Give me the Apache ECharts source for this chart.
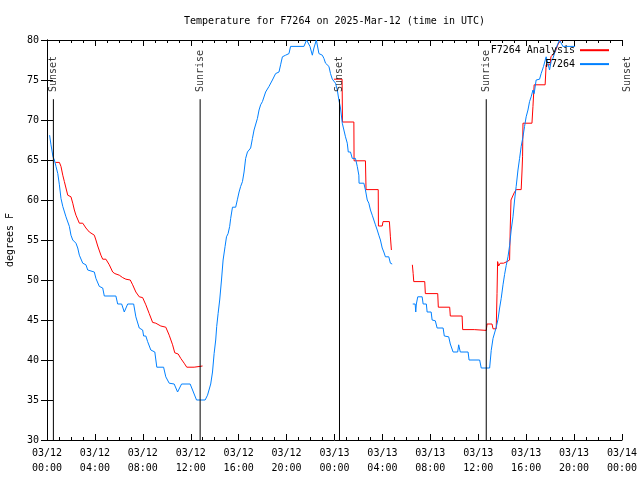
<!DOCTYPE html>
<html><head><meta charset="utf-8">
<script src="https://cdn.jsdelivr.net/npm/echarts@6/dist/echarts.min.js"></script>
<style>html,body{margin:0;padding:0;background:#fff}#c{width:640px;height:480px}</style>
</head><body><div id="c"></div>
<script>
const titleText = 'Temperature for F7264 on 2025-Mar-12 (time in UTC)';
const yAxisName = 'degrees F';
const xTickLabels = ['03/12\n00:00','03/12\n04:00','03/12\n08:00','03/12\n12:00','03/12\n16:00','03/12\n20:00',
  '03/13\n00:00','03/13\n04:00','03/13\n08:00','03/13\n12:00','03/13\n16:00','03/13\n20:00','03/14\n00:00'];
const seriesNames = ['F7264 Analysis', 'F7264'];

// F7264 Analysis (red)
const anaSeg1 = [
 ['03-12 00:42',64.7],['03-12 01:02',64.7],['03-12 01:10',64.2],['03-12 01:19',63.1],['03-12 01:27',62.3],
 ['03-12 01:35',61.5],['03-12 01:44',60.6],['03-12 02:00',60.4],['03-12 02:09',59.6],['03-12 02:17',58.75],
 ['03-12 02:25',58.1],['03-12 02:42',57.1],['03-12 02:59',57.1],['03-12 03:15',56.5],['03-12 03:32',56.0],
 ['03-12 03:40',55.75],['03-12 03:57',55.6],['03-12 04:05',55.0],['03-12 04:14',54.25],['03-12 04:30',53.1],
 ['03-12 04:39',52.6],['03-12 04:55',52.6],['03-12 05:12',51.9],['03-12 05:29',51.0],['03-12 05:40',50.8],
 ['03-12 06:02',50.6],['03-12 06:19',50.3],['03-12 06:35',50.1],['03-12 06:57',50.0],['03-12 07:09',49.4],
 ['03-12 07:25',48.5],['03-12 07:42',47.9],['03-12 07:59',47.8],['03-12 08:15',46.9],['03-12 08:32',45.8],
 ['03-12 08:49',44.7],['03-12 09:05',44.6],['03-12 09:30',44.25],['03-12 09:55',44.1],['03-12 10:12',43.1],
 ['03-12 10:29',41.9],['03-12 10:40',40.9],['03-12 10:57',40.75],['03-12 11:10',40.2],['03-12 11:27',39.6],
 ['03-12 11:40',39.1],['03-12 12:17',39.1],['03-12 12:22',39.25],['03-12 12:59',39.25]
];
const anaSeg2 = [
 ['03-12 23:57',75.1],['03-13 00:38',75.1],['03-13 00:40',69.75],['03-13 01:37',69.75],['03-13 01:38',64.9],
 ['03-13 02:35',64.9],['03-13 02:38',61.3],['03-13 03:39',61.3],['03-13 03:40',56.75],['03-13 03:59',56.75],
 ['03-13 04:03',57.3],['03-13 04:35',57.3],['03-13 04:40',55.4],['03-13 04:45',53.75]
];
const anaSeg3 = [
 ['03-13 06:30',51.9],['03-13 06:34',50.8],['03-13 06:37',49.8],['03-13 07:32',49.8],['03-13 07:35',48.3],
 ['03-13 08:37',48.3],['03-13 08:40',46.6],['03-13 09:37',46.6],['03-13 09:40',45.5],['03-13 10:39',45.5],
 ['03-13 10:42',43.8],['03-13 11:40',43.8],['03-13 11:45',43.7],['03-13 12:40',43.7],['03-13 12:44',44.5],
 ['03-13 13:09',44.5],['03-13 13:14',43.9],['03-13 13:30',43.9],['03-13 13:34',48.3],['03-13 13:37',52.3],
 ['03-13 13:42',51.75],['03-13 13:50',52.1],['03-13 14:07',52.1],['03-13 14:24',52.3],['03-13 14:37',52.5],
 ['03-13 14:40',56.25],['03-13 14:44',60.0],['03-13 14:54',60.2],['03-13 15:00',60.9],['03-13 15:10',61.3],
 ['03-13 15:35',61.3],['03-13 15:39',63.5],['03-13 15:42',65.4],['03-13 15:44',69.6],['03-13 16:29',69.6],
 ['03-13 16:34',71.7],['03-13 16:40',74.4],['03-13 17:35',74.4],['03-13 17:40',76.9],['03-13 18:00',76.9],
 ['03-13 18:04',77.9],['03-13 18:25',78.5],['03-13 18:40',79.5],['03-13 18:55',80.0]
];

// F7264 observations (blue)
const obsSeg1 = [
 ['03-12 00:13',68.1],['03-12 00:20',66.9],['03-12 00:30',65.4],['03-12 00:37',65.0],['03-12 00:45',64.2],
 ['03-12 00:54',63.3],['03-12 01:02',61.9],['03-12 01:10',60.2],['03-12 01:19',59.2],['03-12 01:35',57.9],
 ['03-12 01:52',56.7],['03-12 02:00',55.6],['03-12 02:09',55.0],['03-12 02:17',55.0],['03-12 02:25',54.6],
 ['03-12 02:34',54.0],['03-12 02:42',53.1],['03-12 02:50',52.9],['03-12 02:59',52.1],['03-12 03:15',51.9],
 ['03-12 03:24',51.25],['03-12 03:32',51.0],['03-12 03:57',51.0],['03-12 04:05',50.2],['03-12 04:22',49.2],
 ['03-12 04:39',49.0],['03-12 04:47',48.0],['03-12 05:45',48.0],['03-12 05:54',47.0],['03-12 06:14',47.0],
 ['03-12 06:27',46.0],['03-12 06:44',47.0],['03-12 07:14',47.0],['03-12 07:25',45.4],['03-12 07:42',44.0],
 ['03-12 07:59',43.75],['03-12 08:04',43.0],['03-12 08:15',43.0],['03-12 08:24',42.3],['03-12 08:40',41.25],
 ['03-12 09:00',41.0],['03-12 09:10',39.1],['03-12 09:44',39.1],['03-12 09:55',37.9],['03-12 10:12',37.1],
 ['03-12 10:37',37.0],['03-12 10:54',36.0],['03-12 11:14',37.0],['03-12 11:57',37.0],['03-12 12:09',36.25],
 ['03-12 12:29',35.0],['03-12 13:12',35.0],['03-12 13:24',35.6],['03-12 13:40',37.0],['03-12 13:49',38.5],
 ['03-12 13:57',40.8],['03-12 14:05',42.5],['03-12 14:10',44.2],['03-12 14:17',45.8],['03-12 14:25',47.5],
 ['03-12 14:34',50.0],['03-12 14:42',52.5],['03-12 14:52',54.2],['03-12 14:59',55.4],['03-12 15:07',55.8],
 ['03-12 15:15',56.7],['03-12 15:20',57.7],['03-12 15:29',59.1],['03-12 15:45',59.1],['03-12 15:54',60.1],
 ['03-12 16:02',61.0],['03-12 16:10',61.7],['03-12 16:19',62.3],['03-12 16:27',63.5],['03-12 16:35',65.2],
 ['03-12 16:44',66.0],['03-12 17:00',66.5],['03-12 17:09',67.7],['03-12 17:17',68.75],['03-12 17:34',70.2],
 ['03-12 17:42',71.25],['03-12 17:50',71.9],['03-12 17:59',72.3],['03-12 18:15',73.5],['03-12 18:32',74.2],
 ['03-12 18:49',75.0],['03-12 19:05',75.8],['03-12 19:22',76.0],['03-12 19:30',76.9],['03-12 19:39',77.9],
 ['03-12 19:55',78.1],['03-12 20:12',78.3],['03-12 20:20',79.2],['03-12 21:27',79.2],['03-12 21:40',80.0],
 ['03-12 21:57',79.2],['03-12 22:09',78.1],['03-12 22:17',79.0],['03-12 22:29',80.0],['03-12 22:42',78.3],
 ['03-12 22:59',78.1],['03-12 23:07',77.7],['03-12 23:15',77.1],['03-12 23:32',76.7],['03-12 23:40',75.8],
 ['03-12 23:49',75.1],['03-13 00:05',74.6],['03-13 00:14',73.75],['03-13 00:22',72.5],['03-13 00:30',71.5],
 ['03-13 00:39',69.6],['03-13 00:47',68.75],['03-13 00:55',67.9],['03-13 01:04',67.1],['03-13 01:09',66.0],
 ['03-13 01:20',66.0],['03-13 01:29',65.2],['03-13 01:45',65.2],['03-13 01:54',64.2],['03-13 02:02',63.1],
 ['03-13 02:03',62.1],['03-13 02:27',62.1],['03-13 02:35',61.25],['03-13 02:44',60.0],['03-13 02:52',59.6],
 ['03-13 03:00',58.75],['03-13 03:09',58.1],['03-13 03:17',57.5],['03-13 03:25',56.9],['03-13 03:34',56.25],
 ['03-13 03:42',55.6],['03-13 03:50',55.0],['03-13 03:59',54.0],['03-13 04:07',53.5],['03-13 04:15',52.9],
 ['03-13 04:32',52.9],['03-13 04:40',52.1],['03-13 04:49',52.0]
];
const obsSeg2 = [
 ['03-13 06:32',47.0],['03-13 06:44',47.0],['03-13 06:47',46.0],['03-13 06:50',47.0],['03-13 06:57',47.9],
 ['03-13 07:19',47.9],['03-13 07:24',47.0],['03-13 07:40',47.0],['03-13 07:44',46.0],['03-13 08:04',46.0],
 ['03-13 08:09',45.0],['03-13 08:25',44.9],['03-13 08:34',44.0],['03-13 09:04',44.0],['03-13 09:10',43.0],
 ['03-13 09:32',42.9],['03-13 09:40',42.0],['03-13 09:49',42.0],['03-13 09:54',41.0],['03-13 10:17',41.0],
 ['03-13 10:22',41.9],['03-13 10:30',41.0],['03-13 11:09',41.0],['03-13 11:14',40.0],['03-13 12:07',40.0],
 ['03-13 12:15',39.0],['03-13 12:57',39.0],['03-13 13:05',41.2],['03-13 13:14',42.7],['03-13 13:30',44.1],
 ['03-13 13:39',45.1],['03-13 13:47',46.5],['03-13 13:55',47.7],['03-13 14:04',49.4],['03-13 14:12',50.7],
 ['03-13 14:20',51.8],['03-13 14:29',52.9],['03-13 14:37',54.3],['03-13 14:45',56.25],['03-13 14:54',57.9],
 ['03-13 15:02',60.0],['03-13 15:10',61.7],['03-13 15:19',63.75],['03-13 15:27',65.2],['03-13 15:35',66.7],
 ['03-13 15:44',67.9],['03-13 15:52',69.2],['03-13 16:00',70.4],['03-13 16:09',71.25],['03-13 16:17',72.3],
 ['03-13 16:25',72.9],['03-13 16:34',73.75],['03-13 16:40',73.3],['03-13 16:50',75.0],['03-13 17:07',75.1],
 ['03-13 17:15',75.8],['03-13 17:27',76.7],['03-13 17:40',77.9],['03-13 17:49',77.1],['03-13 17:57',76.25],
 ['03-13 18:05',77.3],['03-13 18:14',77.7],['03-13 18:30',79.0],['03-13 18:47',80.0],['03-13 18:55',79.8],
 ['03-13 19:04',79.2],['03-13 20:05',79.2]
];

const sunTimes = ['03-12 00:32','03-12 12:47','03-13 00:25','03-13 12:40','03-14 00:28'];
const sunLabels = ['Sunset','Sunrise','Sunset','Sunrise','Sunset'];

const FONT = 'DejaVu Sans Mono';
const LINE_TOP = 72.6, LABEL_AT = 73.5, Y_MIN = 30, Y_MAX = 80;

function toHours(s) {
  const [d, t] = s.split(' ');
  const day = +d.split('-')[1];
  const [hh, mm] = t.split(':').map(Number);
  return (day - 12) * 24 + hh + mm / 60;
}
function joinSegs(segs) {
  const out = [];
  segs.forEach((seg, i) => {
    if (i > 0) out.push([toHours(seg[0][0]) - 0.01, '-']);
    seg.forEach(p => out.push([toHours(p[0]), p[1]]));
  });
  return out;
}

const series = [
  { name: seriesNames[0], type: 'line', data: joinSegs([anaSeg1, anaSeg2, anaSeg3]), symbol: 'none',
    lineStyle: { color: '#ff0000', width: 1 }, itemStyle: { color: '#ff0000' }, connectNulls: false, z: 2 },
  { name: seriesNames[1], type: 'line', data: joinSegs([obsSeg1, obsSeg2]), symbol: 'none',
    lineStyle: { color: '#0080ff', width: 1 }, itemStyle: { color: '#0080ff' }, connectNulls: false, z: 3 }
];
sunTimes.forEach((t, i) => {
  const h = toHours(t);
  series.push({ type: 'line', data: [[h, Y_MIN], [h, LINE_TOP]], symbol: 'none', clip: false, silent: true,
    lineStyle: { color: '#000', width: 1 }, z: 4 });
  series.push({ type: 'scatter', data: [[h, LABEL_AT]], symbol: 'circle', symbolSize: 0.01, clip: false, silent: true,
    itemStyle: { color: 'rgba(0,0,0,0)' }, z: 4,
    label: { show: true, position: 'inside', rotate: 90, align: 'left', verticalAlign: 'middle', offset: [0, 0],
      formatter: sunLabels[i], color: '#000', fontFamily: FONT, fontSize: 10 } });
});

const chart = echarts.init(document.getElementById('c'), null, { renderer: 'canvas' });
chart.setOption({
  animation: false,
  backgroundColor: '#fff',
  title: { text: titleText, left: 184, top: 16, padding: 0,
    textStyle: { fontFamily: FONT, fontSize: 10, fontWeight: 'normal', color: '#000' } },
  legend: { data: seriesNames, orient: 'vertical', right: 30, top: 45, align: 'right', padding: 0,
    itemWidth: 29, itemHeight: 13, itemGap: 3.5, itemStyle: { opacity: 0 },
    textStyle: { fontFamily: FONT, fontSize: 10, color: '#000' } },
  grid: { left: 47, right: 18, top: 40, bottom: 40, containLabel: false, outerBoundsMode: 'none' },
  xAxis: [
    { type: 'value', min: 0, max: 48, interval: 4, position: 'bottom',
      axisLine: { lineStyle: { color: '#000', width: 1 } },
      axisTick: { inside: true, length: 6, lineStyle: { color: '#000' } },
      minorTick: { show: true, splitNumber: 4, length: 3, lineStyle: { color: '#000' } },
      splitLine: { show: false },
      axisLabel: { fontFamily: FONT, fontSize: 10, color: '#000', lineHeight: 15, margin: 6,
        formatter: v => xTickLabels[Math.round(v / 4)] } },
    { type: 'value', min: 0, max: 48, interval: 4, position: 'top',
      axisLine: { lineStyle: { color: '#000', width: 1 } },
      axisTick: { inside: true, length: 6, lineStyle: { color: '#000' } },
      minorTick: { show: true, splitNumber: 4, length: 3, lineStyle: { color: '#000' } },
      splitLine: { show: false }, axisLabel: { show: false } }
  ],
  yAxis: [
    { type: 'value', min: Y_MIN, max: Y_MAX, interval: 5, position: 'left',
      name: yAxisName, nameLocation: 'middle', nameGap: 32,
      nameTextStyle: { fontFamily: FONT, fontSize: 10, color: '#000' },
      axisLine: { show: true, lineStyle: { color: '#000', width: 1 } },
      axisTick: { show: true, inside: true, length: 6, lineStyle: { color: '#000' } },
      splitLine: { show: false },
      axisLabel: { fontFamily: FONT, fontSize: 10, color: '#000', margin: 8 } },
    { type: 'value', min: Y_MIN, max: Y_MAX, interval: 5, position: 'right',
      axisLine: { show: true, lineStyle: { color: '#000', width: 1 } },
      axisTick: { show: true, inside: true, length: 6, lineStyle: { color: '#000' } },
      splitLine: { show: false }, axisLabel: { show: false } }
  ],
  series: series
});
</script></body></html>
